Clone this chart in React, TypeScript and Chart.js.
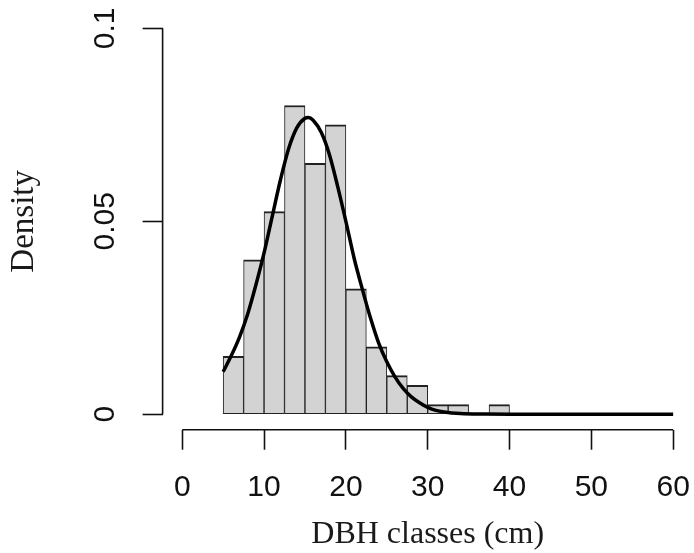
import React, { useEffect, useRef } from "react";
import { Chart, registerables } from "chart.js";

Chart.register(...registerables);

// Histogram bins (class start, cm) and their densities
const binStarts = [5, 7.5, 10, 12.5, 15, 17.5, 20, 22.5, 25, 27.5, 30, 32.5, 35, 37.5];
const binWidth = 2.5;
const densities = [0.015, 0.04, 0.0525, 0.08, 0.065, 0.075, 0.0325, 0.0175, 0.01, 0.0075, 0.0025, 0.0025, 0, 0.0025];

// Fitted density curve
const curveX = [5, 6, 7, 8, 9, 10, 11, 12, 13, 14, 15, 15.4, 16, 17, 18, 19, 20, 21, 22, 23, 24, 25, 26, 27, 28, 29, 30, 31, 32, 34, 37, 40, 45, 50, 55, 60];
const curveY = [0.011, 0.0152, 0.02, 0.026, 0.0335, 0.0418, 0.0513, 0.0607, 0.0688, 0.0742, 0.0767, 0.0769, 0.0762, 0.073, 0.0672, 0.059, 0.05, 0.0405, 0.0325, 0.025, 0.0185, 0.0136, 0.0097, 0.0067, 0.0045, 0.003, 0.0018, 0.001, 0.0006, 0.0002, 0.00005, 0, 0, 0, 0, 0];

const xTicks = [0, 10, 20, 30, 40, 50, 60];
const xTickLabels = ["0", "10", "20", "30", "40", "50", "60"];
const yTicks = [0, 0.05, 0.1];
const yTickLabels = ["0", "0.05", "0.1"];
const xTitle = "DBH classes (cm)";
const yTitle = "Density";

const INK = "#111111";
const TICK_LEN = 20;

export default function App() {
  const ref = useRef<HTMLCanvasElement | null>(null);

  useEffect(() => {
    const canvas = ref.current;
    if (!canvas) return;

    const axisPlugin = {
      id: "rAxes",
      afterDraw(chart: any) {
        const { ctx, chartArea, scales } = chart;
        const xs = scales.x;
        const ys = scales.y;
        ctx.save();
        ctx.strokeStyle = INK;
        ctx.lineWidth = 1.6;
        ctx.beginPath();
        ctx.moveTo(xs.getPixelForValue(xTicks[0]), chartArea.bottom);
        ctx.lineTo(xs.getPixelForValue(xTicks[xTicks.length - 1]), chartArea.bottom);
        ctx.moveTo(chartArea.left, ys.getPixelForValue(yTicks[0]));
        ctx.lineTo(chartArea.left, ys.getPixelForValue(yTicks[yTicks.length - 1]));
        ctx.stroke();
        // rotated y tick labels
        ctx.fillStyle = INK;
        ctx.font = "30px 'Liberation Sans', Arial, sans-serif";
        ctx.textAlign = "center";
        ctx.textBaseline = "middle";
        const lx = chartArea.left - TICK_LEN - 37;
        yTicks.forEach((v, i) => {
          const py = ys.getPixelForValue(v);
          ctx.save();
          ctx.translate(lx, py);
          ctx.rotate(-Math.PI / 2);
          ctx.fillText(yTickLabels[i], 0, 0);
          ctx.restore();
        });
        ctx.restore();
      },
    };

    const chart = new Chart(canvas, {
      type: "bar",
      data: {
        datasets: [
          {
            type: "line",
            data: curveX.map((x, i) => ({ x, y: curveY[i] })),
            borderColor: "#000000",
            borderWidth: 3.5,
            pointRadius: 0,
            fill: false,
            cubicInterpolationMode: "monotone",
            order: 0,
          } as any,
          {
            type: "bar",
            data: binStarts.map((s, i) => ({ x: s + binWidth / 2, y: densities[i] })),
            backgroundColor: "#d3d3d3",
            borderColor: "#222222",
            borderWidth: { top: 2, left: 1, right: 1, bottom: 1 },
            borderSkipped: false,
            barPercentage: 1,
            categoryPercentage: 1,
            order: 1,
          } as any,
        ],
      },
      options: {
        animation: false,
        responsive: false,
        events: [],
        layout: { padding: { top: 12.9, right: 1.2, left: 0, bottom: 0 } },
        plugins: { legend: { display: false }, tooltip: { enabled: false } },
        scales: {
          x: {
            type: "linear",
            position: "bottom",
            offset: false,
            min: -2.4,
            max: 62.4,
            afterBuildTicks: (s: any) => {
              s.ticks = xTicks.map((v) => ({ value: v }));
            },
            afterFit: (s: any) => {
              s.height = 123.3;
              s.paddingLeft = 0;
              s.paddingRight = 0;
            },
            border: { display: false },
            grid: {
              offset: false,
              drawOnChartArea: false,
              drawTicks: true,
              tickLength: TICK_LEN,
              tickWidth: 1.6,
              tickColor: INK,
            },
            ticks: {
              autoSkip: false,
              maxRotation: 0,
              minRotation: 0,
              padding: 20,
              color: INK,
              font: { family: "'Liberation Sans', Arial, sans-serif", size: 30, lineHeight: 1.2 },
              callback: (v: any) => {
                const i = xTicks.indexOf(Number(v));
                return i >= 0 ? xTickLabels[i] : "";
              },
            },
            title: {
              display: true,
              text: xTitle,
              color: "#1a1a1a",
              font: { family: "'Liberation Serif', 'Times New Roman', serif", size: 32, lineHeight: 1 },
              padding: { top: 0, bottom: 2 },
            },
          },
          y: {
            type: "linear",
            position: "left",
            min: -0.004,
            max: 0.104,
            afterBuildTicks: (s: any) => {
              s.ticks = yTicks.map((v) => ({ value: v }));
            },
            afterFit: (s: any) => {
              s.width = 162.6;
              s.paddingTop = 0;
              s.paddingBottom = 0;
            },
            border: { display: false },
            grid: {
              drawOnChartArea: false,
              drawTicks: true,
              tickLength: TICK_LEN,
              tickWidth: 1.6,
              tickColor: INK,
            },
            ticks: { display: false },
            title: {
              display: true,
              text: yTitle,
              color: "#1a1a1a",
              font: { family: "'Liberation Serif', 'Times New Roman', serif", size: 33, lineHeight: 1 },
              padding: { top: 8, bottom: 0 },
            },
          },
        },
      } as any,
      plugins: [axisPlugin],
    });

    return () => chart.destroy();
  }, []);

  return (
    <div style={{ position: "absolute", left: 0, top: 0, width: 694, height: 553, background: "#ffffff" }}>
      <canvas ref={ref} width={694} height={553} style={{ display: "block" }} />
    </div>
  );
}
